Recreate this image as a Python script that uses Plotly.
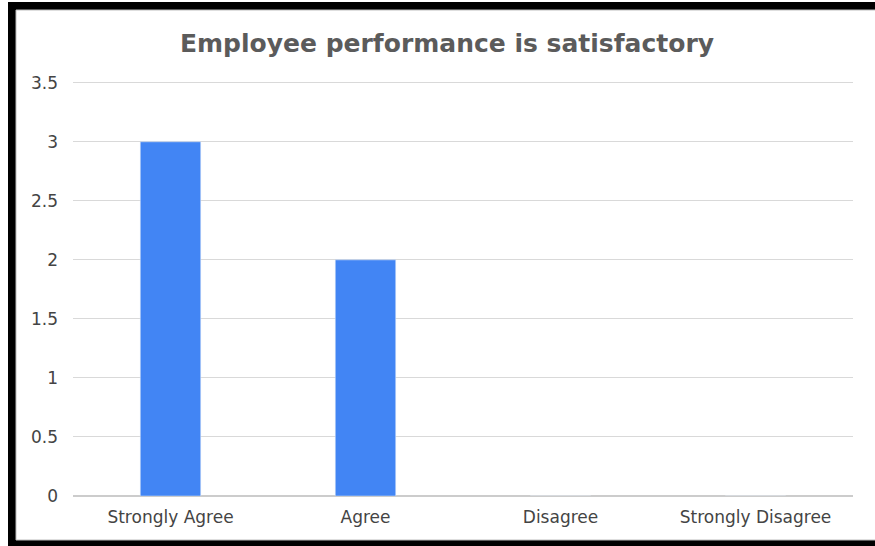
import plotly.graph_objects as go

categories = ["Strongly Agree", "Agree", "Disagree", "Strongly Disagree"]
counts = [3, 2, 0, 0]
y_ticks = [0, 0.5, 1, 1.5, 2, 2.5, 3, 3.5]
y_tick_labels = ["0", "0.5", "1", "1.5", "2", "2.5", "3", "3.5"]

W, H = 875, 546
L, R, T, B = 73, 22, 81, 50
pw, ph = W - L - R, H - T - B


def px_to_paper(x0, y0, x1, y1):
    # convert pixel box (top-left origin) to paper coords
    return dict(x0=(x0 - L) / pw, x1=(x1 - L) / pw,
                y0=(H - B - y1) / ph, y1=(H - B - y0) / ph)


fig = go.Figure()
fig.add_trace(go.Bar(x=categories, y=counts, marker_color="#4285F4", width=0.31))

shapes = [
    dict(type="rect", xref="paper", yref="paper", layer="below",
         fillcolor="black", line_width=0, **px_to_paper(8, 2, 890, 560)),
    dict(type="rect", xref="paper", yref="paper", layer="below",
         fillcolor="white", line=dict(color="#bdbdbd", width=1), **px_to_paper(16, 10, 890, 540)),
]

fig.update_layout(
    width=W, height=H,
    margin=dict(l=L, r=R, t=T, b=B),
    paper_bgcolor="white", plot_bgcolor="rgba(0,0,0,0)",
    shapes=shapes,
    title=dict(text="<b>Employee performance is satisfactory</b>", x=447 / W, xanchor="center",
               xref="container", y=1 - 43 / H, yanchor="middle",
               font=dict(family="DejaVu Sans", size=25, color="#5b5b5b")),
    font=dict(family="DejaVu Sans", size=17, color="#444444"),
    showlegend=False,
)
fig.update_xaxes(showgrid=False, showline=False, ticks="", ticklabelstandoff=9)
# small headroom so the 3.5 gridline is not clipped at the plot edge
fig.update_yaxes(range=[0, 3.515], tickvals=y_ticks, ticktext=y_tick_labels,
                 gridcolor="#d9d9d9", zeroline=True, zerolinecolor="#cccccc",
                 ticks="", ticklabelstandoff=14)

fig.write_html("out.html", config={"displayModeBar": False},
               post_script="document.body.style.margin='0';")
